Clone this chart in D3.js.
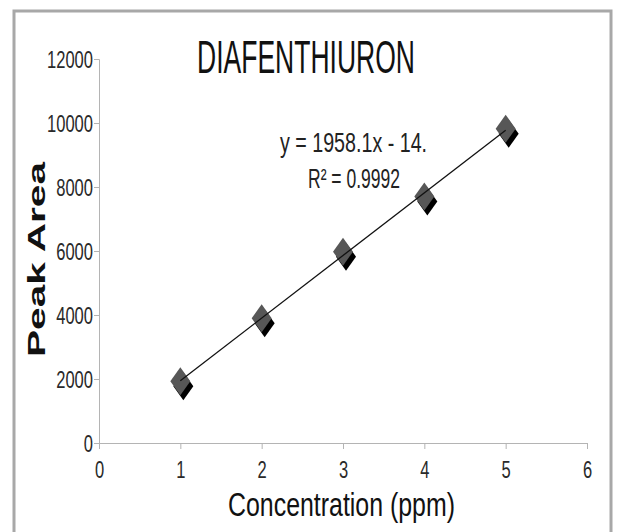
<!DOCTYPE html>
<html>
<head>
<meta charset="utf-8">
<script src="https://cdn.jsdelivr.net/npm/d3@7"></script>
<style>
  body { margin: 0; background: #fff; }
  svg { display: block; }
</style>
</head>
<body>
<div id="chart"></div>
<script>
// calibration data
const concentration = [1, 2, 3, 4, 5];
const peakArea = [1930, 3900, 5980, 7700, 9820];
const xTicks = [0, 1, 2, 3, 4, 5, 6];
const yTicks = [0, 2000, 4000, 6000, 8000, 10000, 12000];
const slope = 1958.1;
const intercept = -14.1;
const rSquared = 0.9992;

const width = 620, height = 532;
const sans = "'Liberation Sans', Arial, sans-serif";

const svg = d3.select('#chart').append('svg')
    .attr('width', width)
    .attr('height', height);

// outer frame
svg.append('rect')
    .attr('x', 14).attr('y', 11)
    .attr('width', 597).attr('height', 540)
    .attr('fill', 'none')
    .attr('stroke', '#a8a8a8')
    .attr('stroke-width', 3);

var x = d3.scaleLinear().domain([0, 6]).range([99, 587]);
var y = d3.scaleLinear().domain([0, 12000]).range([443, 59]);

// squeeze text to look like the condensed face of the original
function condense(sel, perChar) {
    sel.attr('textLength', function () { return this.textContent.length * perChar; })
        .attr('lengthAdjust', 'spacingAndGlyphs');
}

// y axis
var yAxis = svg.append('g')
    .attr('transform', 'translate(' + x(0) + ',0)')
    .call(d3.axisLeft(y).tickValues(yTicks).tickSize(5).tickPadding(1).tickFormat(d3.format('d')));
yAxis.selectAll('path, line').attr('stroke', '#b4b4b4');
yAxis.selectAll('text')
    .attr('font-family', sans)
    .attr('font-size', 24)
    .attr('dy', '0.36em')
    .attr('fill', '#2a2a2a')
    .call(condense, 9.2);

// x axis
var xAxis = svg.append('g')
    .attr('transform', 'translate(0,' + y(0) + ')')
    .call(d3.axisBottom(x).tickValues(xTicks).tickSize(6).tickPadding(12).tickFormat(d3.format('d')));
xAxis.selectAll('path, line').attr('stroke', '#b4b4b4');
xAxis.selectAll('text')
    .attr('font-family', sans)
    .attr('font-size', 24)
    .attr('fill', '#2a2a2a')
    .call(condense, 9.2);

// title
svg.append('text')
    .attr('x', 197).attr('y', 73)
    .attr('font-family', sans)
    .attr('font-size', 46)
    .attr('fill', '#111')
    .attr('textLength', 218)
    .attr('lengthAdjust', 'spacingAndGlyphs')
    .text('DIAFENTHIURON');

// axis titles
svg.append('text')
    .attr('x', 228).attr('y', 516)
    .attr('font-family', sans)
    .attr('font-size', 34)
    .attr('fill', '#111')
    .attr('textLength', 227)
    .attr('lengthAdjust', 'spacingAndGlyphs')
    .text('Concentration (ppm)');

svg.append('text')
    .attr('transform', 'translate(45,357) rotate(-90)')
    .attr('font-family', sans)
    .attr('font-weight', 'bold')
    .attr('font-size', 24)
    .attr('fill', '#111')
    .attr('textLength', 195)
    .attr('lengthAdjust', 'spacingAndGlyphs')
    .text('Peak Area');

// markers: dark diamond with black shadow
var pts = concentration.map((c, i) => ({ c: c, v: peakArea[i] }));
var diamond = 'M0,-14 L10,0 L0,14 L-10,0 Z';

svg.selectAll('path.shadow').data(pts).enter()
    .append('path')
    .attr('class', 'shadow')
    .attr('d', diamond)
    .attr('transform', d => 'translate(' + (x(d.c) + 3) + ',' + (y(d.v) + 5) + ')')
    .attr('fill', '#000');

svg.selectAll('path.mark').data(pts).enter()
    .append('path')
    .attr('class', 'mark')
    .attr('d', diamond)
    .attr('transform', d => 'translate(' + x(d.c) + ',' + y(d.v) + ')')
    .attr('fill', '#575757');

// trend line drawn over markers
var xs = d3.extent(concentration);
svg.append('line')
    .attr('x1', x(xs[0])).attr('y1', y(slope * xs[0] + intercept))
    .attr('x2', x(xs[1])).attr('y2', y(slope * xs[1] + intercept))
    .attr('stroke', '#111')
    .attr('stroke-width', 1.3);

// equation label (clipped on the right as in the original)
svg.append('clipPath').attr('id', 'eqclip')
    .append('rect').attr('x', 250).attr('y', 120).attr('width', 176).attr('height', 40);

svg.append('text')
    .attr('clip-path', 'url(#eqclip)')
    .attr('x', 280).attr('y', 152)
    .attr('font-family', sans)
    .attr('font-size', 27)
    .attr('fill', '#222')
    .attr('textLength', 158)
    .attr('lengthAdjust', 'spacingAndGlyphs')
    .text('y = ' + slope + 'x - ' + Math.abs(intercept));

svg.append('text')
    .attr('x', 308).attr('y', 188)
    .attr('font-family', sans)
    .attr('font-size', 27)
    .attr('fill', '#222')
    .attr('textLength', 92)
    .attr('lengthAdjust', 'spacingAndGlyphs')
    .text('R\u00b2 = ' + rSquared);
</script>
</body>
</html>
